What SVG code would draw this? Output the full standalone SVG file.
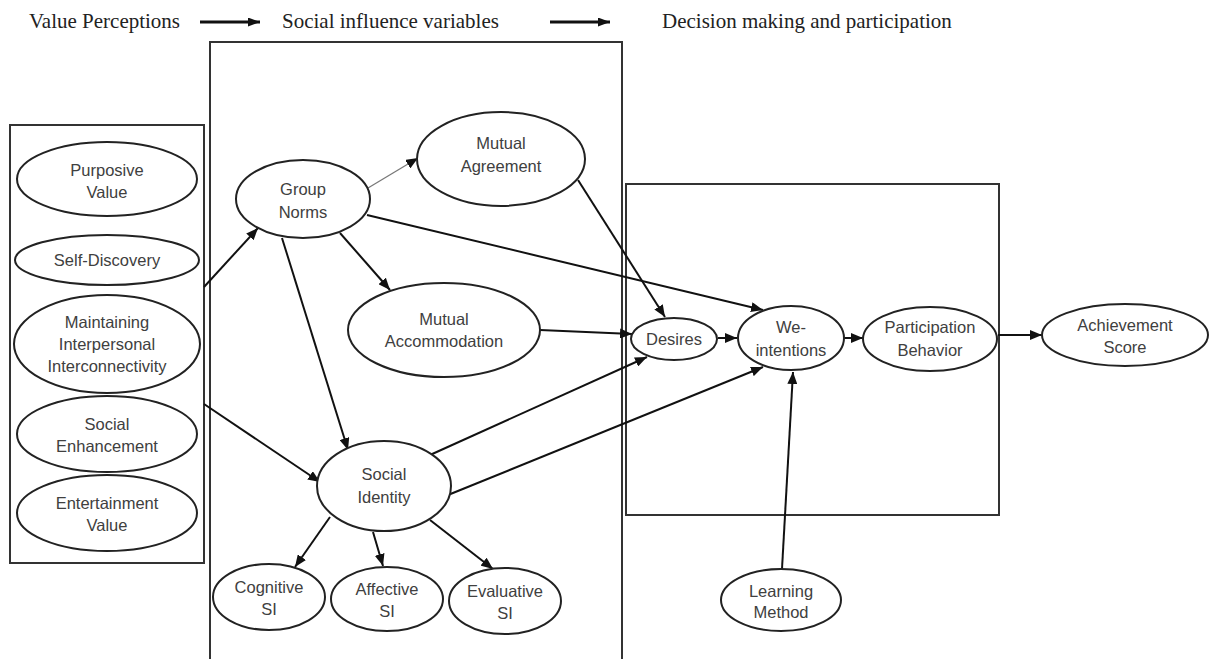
<svg xmlns="http://www.w3.org/2000/svg" width="1212" height="659" viewBox="0 0 1212 659">
<style>
.hdr{font-family:"Liberation Serif","Times New Roman",serif;font-size:21px;fill:#222}
.box{fill:none;stroke:#333;stroke-width:2}
.n ellipse{fill:#fff;stroke:#222;stroke-width:2}
.n text{font-family:"Liberation Sans",Arial,sans-serif;font-size:16.5px;fill:#404040;text-anchor:middle}
.c line{stroke:#111;stroke-width:2;marker-end:url(#ah)}
.c line.thin{stroke:#777;stroke-width:1.2}
.h line{stroke:#111;stroke-width:3;marker-end:url(#hh)}
</style>
<defs>
<marker id="ah" viewBox="0 0 12 10" refX="12" refY="5" markerWidth="12" markerHeight="10" markerUnits="userSpaceOnUse" orient="auto"><path d="M0,0 L12,5 L0,10 z" fill="#111"/></marker>
<marker id="hh" viewBox="0 0 12 9" refX="12" refY="4.5" markerWidth="12" markerHeight="9" markerUnits="userSpaceOnUse" orient="auto"><path d="M0,0 L12,4.5 L0,9 z" fill="#111"/></marker>
</defs>
<rect width="1212" height="659" fill="#fff"/>
<g id="header">
<text class="hdr" x="29" y="28">Value Perceptions</text>
<text class="hdr" x="282" y="28">Social influence variables</text>
<text class="hdr" x="662" y="28">Decision making and participation</text>
<g class="h">
<line x1="200" y1="22" x2="260" y2="22"/>
<line x1="550" y1="22" x2="610" y2="22"/>
</g>
</g>
<g id="boxes">
<rect class="box" x="10" y="125" width="194" height="438"/>
<path class="box" d="M210,662 V42 H622 V662"/>
<rect class="box" x="626" y="184" width="373" height="331"/>
</g>
<g id="connectors" class="c">
<line x1="204" y1="287" x2="258" y2="228"/>
<line class="thin" x1="368" y1="188" x2="418" y2="158"/>
<line x1="367" y1="215" x2="763" y2="310"/>
<line x1="340" y1="233" x2="390" y2="290"/>
<line x1="282" y1="238" x2="348" y2="450"/>
<line x1="578" y1="180" x2="665" y2="317"/>
<line x1="540" y1="330" x2="632" y2="334"/>
<line x1="204" y1="404" x2="320" y2="482"/>
<line x1="430" y1="455" x2="647" y2="357"/>
<line x1="448" y1="495" x2="763" y2="367"/>
<line x1="330" y1="517" x2="295" y2="567"/>
<line x1="373" y1="532" x2="383" y2="566"/>
<line x1="430" y1="520" x2="493" y2="569"/>
<line x1="718" y1="338" x2="737" y2="338"/>
<line x1="844" y1="338" x2="863" y2="338"/>
<line x1="998" y1="335" x2="1042" y2="335"/>
<line x1="782" y1="569" x2="793" y2="372"/>
</g>
<g id="purposive" class="n"><ellipse cx="107" cy="179" rx="90" ry="37"/><text x="107" y="176">Purposive</text><text x="107" y="198">Value</text></g>
<g id="selfdiscovery" class="n"><ellipse cx="107" cy="260" rx="92" ry="25"/><text x="107" y="266">Self-Discovery</text></g>
<g id="maintaining" class="n"><ellipse cx="107" cy="344" rx="93" ry="49"/><text x="107" y="328">Maintaining</text><text x="107" y="350">Interpersonal</text><text x="107" y="372">Interconnectivity</text></g>
<g id="socialenh" class="n"><ellipse cx="107" cy="434" rx="90" ry="38"/><text x="107" y="430">Social</text><text x="107" y="452">Enhancement</text></g>
<g id="entertainment" class="n"><ellipse cx="107" cy="513" rx="90" ry="38"/><text x="107" y="509">Entertainment</text><text x="107" y="531">Value</text></g>
<g id="groupnorms" class="n"><ellipse cx="303" cy="199" rx="67" ry="39"/><text x="303" y="195">Group</text><text x="303" y="218">Norms</text></g>
<g id="mutualagreement" class="n"><ellipse cx="501" cy="159" rx="84" ry="47"/><text x="501" y="149">Mutual</text><text x="501" y="172">Agreement</text></g>
<g id="mutualaccommodation" class="n"><ellipse cx="444" cy="330" rx="96" ry="47"/><text x="444" y="325">Mutual</text><text x="444" y="347">Accommodation</text></g>
<g id="socialidentity" class="n"><ellipse cx="384" cy="486" rx="67" ry="45"/><text x="384" y="480">Social</text><text x="384" y="503">Identity</text></g>
<g id="cognitive" class="n"><ellipse cx="269" cy="597" rx="56" ry="33"/><text x="269" y="593">Cognitive</text><text x="269" y="615">SI</text></g>
<g id="affective" class="n"><ellipse cx="387" cy="599" rx="56" ry="32"/><text x="387" y="595">Affective</text><text x="387" y="617">SI</text></g>
<g id="evaluative" class="n"><ellipse cx="505" cy="601" rx="56" ry="33"/><text x="505" y="597">Evaluative</text><text x="505" y="619">SI</text></g>
<g id="desires" class="n"><ellipse cx="674" cy="339" rx="43" ry="21"/><text x="674" y="345">Desires</text></g>
<g id="weintentions" class="n"><ellipse cx="791" cy="338" rx="53" ry="32"/><text x="791" y="333">We-</text><text x="791" y="356">intentions</text></g>
<g id="participation" class="n"><ellipse cx="930" cy="339" rx="67" ry="32"/><text x="930" y="333">Participation</text><text x="930" y="356">Behavior</text></g>
<g id="achievement" class="n"><ellipse cx="1125" cy="335" rx="83" ry="31"/><text x="1125" y="331">Achievement</text><text x="1125" y="353">Score</text></g>
<g id="learning" class="n"><ellipse cx="781" cy="600" rx="60" ry="31"/><text x="781" y="597">Learning</text><text x="781" y="618">Method</text></g>
</svg>
